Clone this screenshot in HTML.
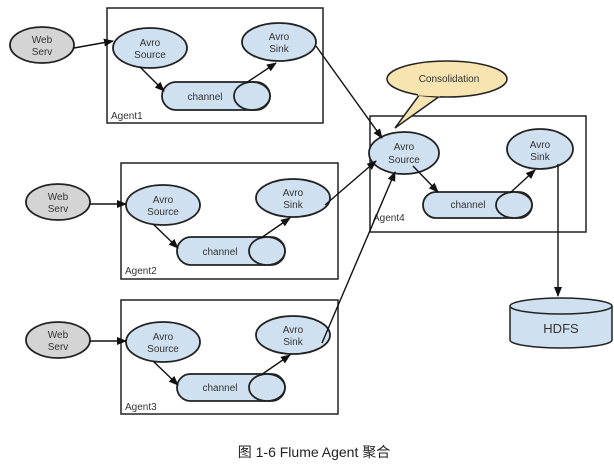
<!DOCTYPE html>
<html><head><meta charset="utf-8"><style>
html,body{margin:0;padding:0;background:#fff;}
svg{display:block;font-family:"Liberation Sans",Arial,sans-serif;}
</style></head><body>
<svg width="614" height="464" viewBox="0 0 614 464" xmlns="http://www.w3.org/2000/svg">
<defs>
<marker id="a" markerWidth="10" markerHeight="10" refX="9" refY="5" orient="auto" markerUnits="userSpaceOnUse">
<path d="M0,1 L10,5 L0,9 z" fill="#111"/></marker>
</defs>
<g stroke="#222" stroke-width="1.5" fill="none">
<rect x="107" y="8" width="216" height="115"/>
<rect x="121" y="163" width="217" height="116"/>
<rect x="121" y="300" width="217" height="114"/>
<rect x="370" y="116" width="216" height="116"/>
</g>
<g font-size="10" fill="#333">
<text x="111" y="119">Agent1</text>
<text x="125" y="274">Agent2</text>
<text x="125" y="410">Agent3</text>
<text x="373" y="221">Agent4</text>
</g>
<g stroke="#222" stroke-width="1.8" fill="#d4d4d4">
<ellipse cx="42" cy="45" rx="32" ry="18"/>
<ellipse cx="58" cy="202" rx="32" ry="18"/>
<ellipse cx="58" cy="340" rx="32" ry="18"/>
</g>
<g font-size="10" fill="#333" text-anchor="middle">
<text x="42" y="43">Web</text><text x="42" y="55">Serv</text>
<text x="58" y="200">Web</text><text x="58" y="212">Serv</text>
<text x="58" y="338">Web</text><text x="58" y="350">Serv</text>
</g>
<g stroke="#222" stroke-width="1.8" fill="#cfe0f1">
<ellipse cx="150" cy="48" rx="37" ry="20"/>
<ellipse cx="279" cy="42" rx="37" ry="19"/>
<rect x="162" y="82" width="108" height="28" rx="14"/>
<ellipse cx="252" cy="96" rx="18" ry="14"/>
<ellipse cx="163" cy="205" rx="37" ry="20"/>
<ellipse cx="293" cy="198" rx="37" ry="19"/>
<rect x="177" y="237" width="108" height="28" rx="14"/>
<ellipse cx="267" cy="251" rx="18" ry="14"/>
<ellipse cx="163" cy="342" rx="37" ry="20"/>
<ellipse cx="293" cy="335" rx="37" ry="19"/>
<rect x="177" y="374" width="108" height="27" rx="13.5"/>
<ellipse cx="267" cy="387.5" rx="18" ry="13.5"/>
<ellipse cx="404" cy="153" rx="35" ry="21"/>
<ellipse cx="540" cy="149" rx="33" ry="20"/>
<rect x="423" y="192" width="109" height="26" rx="13"/>
<ellipse cx="514" cy="205" rx="18" ry="13"/>
</g>
<g font-size="10" fill="#333" text-anchor="middle">
<text x="150" y="46">Avro</text><text x="150" y="58">Source</text>
<text x="279" y="40">Avro</text><text x="279" y="52">Sink</text>
<text x="205" y="100">channel</text>
<text x="163" y="203">Avro</text><text x="163" y="215">Source</text>
<text x="293" y="196">Avro</text><text x="293" y="208">Sink</text>
<text x="220" y="255">channel</text>
<text x="163" y="340">Avro</text><text x="163" y="352">Source</text>
<text x="293" y="333">Avro</text><text x="293" y="345">Sink</text>
<text x="220" y="391">channel</text>
<text x="404" y="150">Avro</text><text x="404" y="163">Source</text>
<text x="540" y="148">Avro</text><text x="540" y="160">Sink</text>
<text x="468" y="208">channel</text>
</g>
<path d="M420,94 L395,128 L440,96" fill="#f8e4b0" stroke="#222" stroke-width="1.5"/>
<ellipse cx="447" cy="79" rx="60" ry="18" fill="#f8e4b0" stroke="#222" stroke-width="1.5"/>
<path d="M418,94 L440,95" stroke="#f8e4b0" stroke-width="3"/>
<text x="449" y="82" font-size="10" fill="#333" text-anchor="middle">Consolidation</text>
<path d="M510,306 L510,340 A51,8 0 0 0 612,340 L612,306" fill="#cfe0f1" stroke="#222" stroke-width="1.5"/>
<ellipse cx="561" cy="306" rx="51" ry="8" fill="#cfe0f1" stroke="#222" stroke-width="1.5"/>
<text x="561" y="333" font-size="13" fill="#333" text-anchor="middle">HDFS</text>
<g stroke="#111" stroke-width="1.4" fill="none" marker-end="url(#a)">
<line x1="74" y1="48" x2="113" y2="41"/>
<line x1="140" y1="67" x2="164" y2="91"/>
<line x1="246" y1="83" x2="276" y2="63"/>
<line x1="90" y1="204" x2="126" y2="204"/>
<line x1="153" y1="224" x2="178" y2="248"/>
<line x1="261" y1="238" x2="290" y2="218"/>
<line x1="90" y1="341" x2="126" y2="341"/>
<line x1="153" y1="361" x2="178" y2="385"/>
<line x1="261" y1="375" x2="290" y2="355"/>
<line x1="413" y1="166" x2="438" y2="192"/>
<line x1="510" y1="193" x2="535" y2="170"/>
<line x1="316" y1="46" x2="382" y2="138"/>
<line x1="325" y1="205" x2="376" y2="161"/>
<line x1="322" y1="343" x2="395" y2="172"/>
<line x1="558" y1="164" x2="558" y2="296"/>
</g>
<text x="314" y="457" font-size="14" fill="#222" text-anchor="middle" font-family="'Liberation Sans','Noto Sans CJK SC',sans-serif">图 1-6 Flume Agent 聚合</text>
</svg>
</body></html>
